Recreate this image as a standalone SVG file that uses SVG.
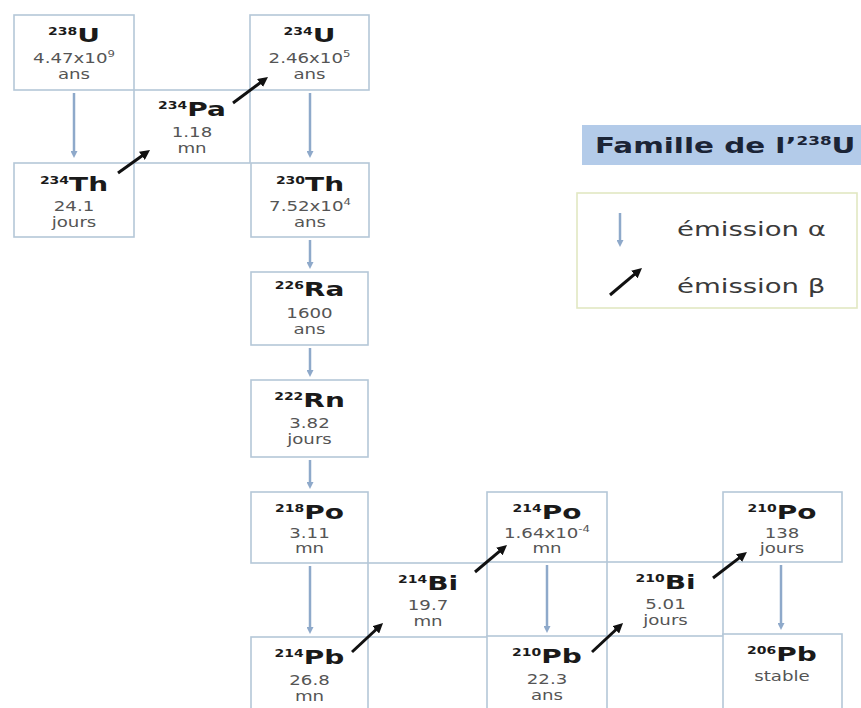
<svg xmlns="http://www.w3.org/2000/svg" width="861" height="708" viewBox="0 0 861 708">
<style>
.box{fill:#fff;stroke:#b5c7d8;stroke-width:1.6}
.sym{font-family:"DejaVu Sans",sans-serif;font-weight:bold;font-size:20px;fill:#1a1a1a;text-anchor:middle}
.sup{font-size:10px}
.val{font-family:"DejaVu Sans",sans-serif;font-size:14px;fill:#555;text-anchor:middle}
.vsup{font-size:9px}
.alpha{stroke:#8ea9ca;stroke-width:2.5;fill:none;marker-end:url(#ha)}
.beta{stroke:#111;stroke-width:3;fill:none;marker-end:url(#hb)}
.leg{font-family:"DejaVu Sans",sans-serif;font-size:19px;fill:#3a3a3a}
.title{font-family:"DejaVu Sans",sans-serif;font-weight:bold;font-size:21px;fill:#1b2436}
</style>
<defs>
<marker id="ha" markerUnits="userSpaceOnUse" viewBox="0 0 7 7" markerWidth="7" markerHeight="7" refX="1" refY="3.5" orient="auto"><path d="M0,0 L7,3.5 L0,7 z" fill="#8ea9ca"/></marker>
<marker id="hb" markerUnits="userSpaceOnUse" viewBox="0 0 10 10" markerWidth="10" markerHeight="10" refX="2" refY="5" orient="auto"><path d="M0,0 L10,5 L0,10 z" fill="#111"/></marker>
</defs>
<rect width="861" height="708" fill="#fff"/>

<g id="n238U"><rect class="box" x="14" y="15" width="120" height="75"/>
<text class="sym" transform="translate(74,42) scale(1.4,1)"><tspan class="sup" dy="-7">238</tspan><tspan dy="7">U</tspan></text>
<text class="val" transform="translate(74,63) scale(1.3,1)">4.47x10<tspan class="vsup" dy="-6">9</tspan></text>
<text class="val" transform="translate(74,79) scale(1.3,1)">ans</text></g>

<g id="n234Pa"><rect class="box" x="134" y="90" width="116" height="73"/>
<text class="sym" transform="translate(192,116) scale(1.4,1)"><tspan class="sup" dy="-7">234</tspan><tspan dy="7">Pa</tspan></text>
<text class="val" transform="translate(192,137) scale(1.3,1)">1.18</text>
<text class="val" transform="translate(192,153) scale(1.3,1)">mn</text></g>

<g id="n234U"><rect class="box" x="250" y="15" width="119" height="75"/>
<text class="sym" transform="translate(309.5,42) scale(1.4,1)"><tspan class="sup" dy="-7">234</tspan><tspan dy="7">U</tspan></text>
<text class="val" transform="translate(309.5,63) scale(1.3,1)">2.46x10<tspan class="vsup" dy="-6">5</tspan></text>
<text class="val" transform="translate(309.5,79) scale(1.3,1)">ans</text></g>

<g id="n234Th"><rect class="box" x="14" y="163" width="120" height="74"/>
<text class="sym" transform="translate(74,191) scale(1.4,1)"><tspan class="sup" dy="-7">234</tspan><tspan dy="7">Th</tspan></text>
<text class="val" transform="translate(74,211) scale(1.3,1)">24.1</text>
<text class="val" transform="translate(74,227) scale(1.3,1)">jours</text></g>

<g id="n230Th"><rect class="box" x="251" y="163" width="118" height="74"/>
<text class="sym" transform="translate(310,191) scale(1.4,1)"><tspan class="sup" dy="-7">230</tspan><tspan dy="7">Th</tspan></text>
<text class="val" transform="translate(310,211) scale(1.3,1)">7.52x10<tspan class="vsup" dy="-6">4</tspan></text>
<text class="val" transform="translate(310,227) scale(1.3,1)">ans</text></g>

<g id="n226Ra"><rect class="box" x="251" y="272" width="117" height="73"/>
<text class="sym" transform="translate(309.5,296) scale(1.4,1)"><tspan class="sup" dy="-7">226</tspan><tspan dy="7">Ra</tspan></text>
<text class="val" transform="translate(309.5,318) scale(1.3,1)">1600</text>
<text class="val" transform="translate(309.5,334) scale(1.3,1)">ans</text></g>

<g id="n222Rn"><rect class="box" x="251" y="380" width="117" height="77"/>
<text class="sym" transform="translate(309.5,407) scale(1.4,1)"><tspan class="sup" dy="-7">222</tspan><tspan dy="7">Rn</tspan></text>
<text class="val" transform="translate(309.5,428) scale(1.3,1)">3.82</text>
<text class="val" transform="translate(309.5,444) scale(1.3,1)">jours</text></g>

<g id="n218Po"><rect class="box" x="251" y="492" width="117" height="71"/>
<text class="sym" transform="translate(309.5,519) scale(1.4,1)"><tspan class="sup" dy="-7">218</tspan><tspan dy="7">Po</tspan></text>
<text class="val" transform="translate(309.5,538) scale(1.3,1)">3.11</text>
<text class="val" transform="translate(309.5,553) scale(1.3,1)">mn</text></g>

<g id="n214Bi"><rect class="box" x="368" y="563" width="119" height="74"/>
<text class="sym" transform="translate(428,590) scale(1.4,1)"><tspan class="sup" dy="-7">214</tspan><tspan dy="7">Bi</tspan></text>
<text class="val" transform="translate(428,610) scale(1.3,1)">19.7</text>
<text class="val" transform="translate(428,626) scale(1.3,1)">mn</text></g>

<g id="n214Pb"><rect class="box" x="251" y="637" width="117" height="90"/>
<text class="sym" transform="translate(309.5,664) scale(1.4,1)"><tspan class="sup" dy="-7">214</tspan><tspan dy="7">Pb</tspan></text>
<text class="val" transform="translate(309.5,685) scale(1.3,1)">26.8</text>
<text class="val" transform="translate(309.5,701) scale(1.3,1)">mn</text></g>

<g id="n214Po"><rect class="box" x="487" y="492" width="120" height="70"/>
<text class="sym" transform="translate(547,519) scale(1.4,1)"><tspan class="sup" dy="-7">214</tspan><tspan dy="7">Po</tspan></text>
<text class="val" transform="translate(547,538) scale(1.3,1)">1.64x10<tspan class="vsup" dy="-6">-4</tspan></text>
<text class="val" transform="translate(547,553) scale(1.3,1)">mn</text></g>

<g id="n210Bi"><rect class="box" x="607" y="562" width="116" height="74"/>
<text class="sym" transform="translate(665.5,589) scale(1.4,1)"><tspan class="sup" dy="-7">210</tspan><tspan dy="7">Bi</tspan></text>
<text class="val" transform="translate(665.5,609) scale(1.3,1)">5.01</text>
<text class="val" transform="translate(665.5,625) scale(1.3,1)">jours</text></g>

<g id="n210Pb"><rect class="box" x="487" y="636" width="120" height="90"/>
<text class="sym" transform="translate(547,663) scale(1.4,1)"><tspan class="sup" dy="-7">210</tspan><tspan dy="7">Pb</tspan></text>
<text class="val" transform="translate(547,684) scale(1.3,1)">22.3</text>
<text class="val" transform="translate(547,700) scale(1.3,1)">ans</text></g>

<g id="n210Po"><rect class="box" x="723" y="492" width="119" height="70"/>
<text class="sym" transform="translate(782,519) scale(1.4,1)"><tspan class="sup" dy="-7">210</tspan><tspan dy="7">Po</tspan></text>
<text class="val" transform="translate(782,538) scale(1.3,1)">138</text>
<text class="val" transform="translate(782,553) scale(1.3,1)">jours</text></g>

<g id="n206Pb"><rect class="box" x="723" y="634" width="119" height="90"/>
<text class="sym" transform="translate(782,661) scale(1.4,1)"><tspan class="sup" dy="-7">206</tspan><tspan dy="7">Pb</tspan></text>
<text class="val" transform="translate(782,681) scale(1.3,1)">stable</text></g>

<g id="connectors">
<line class="alpha" x1="74" y1="93" x2="74" y2="152"/>
<line class="alpha" x1="310" y1="93" x2="310" y2="152"/>
<line class="alpha" x1="310" y1="240" x2="310" y2="263"/>
<line class="alpha" x1="310" y1="348" x2="310" y2="371"/>
<line class="alpha" x1="310" y1="460" x2="310" y2="483"/>
<line class="alpha" x1="310" y1="566" x2="310" y2="628"/>
<line class="alpha" x1="547" y1="565" x2="547" y2="627"/>
<line class="alpha" x1="781" y1="565" x2="781" y2="624"/>
<line class="beta" x1="118" y1="173" x2="143.5" y2="154.7"/>
<line class="beta" x1="233" y1="103" x2="261.6" y2="81.8"/>
<line class="beta" x1="352" y1="652" x2="377.2" y2="628.5"/>
<line class="beta" x1="475" y1="572" x2="500.9" y2="550.2"/>
<line class="beta" x1="592" y1="652" x2="617.2" y2="628.5"/>
<line class="beta" x1="713" y1="578" x2="740.6" y2="556.9"/>
</g>

<g id="legend-title">
<rect x="582" y="125" width="279" height="40" fill="#b3cbe9"/>
<text class="title" transform="translate(595,153) scale(1.4,1)">Famille de l’<tspan font-size="12" dy="-8">238</tspan><tspan dy="8">U</tspan></text>
</g>

<g id="legend">
<rect x="577" y="193" width="280" height="115" fill="#fff" stroke="#e2e8c2" stroke-width="1.6"/>
<line class="alpha" x1="620" y1="213" x2="620" y2="241"/>
<line class="beta" x1="610" y1="295" x2="635.9" y2="273.2"/>
<text class="leg" transform="translate(677,236) scale(1.45,1)">émission α</text>
<text class="leg" transform="translate(677,293) scale(1.45,1)">émission β</text>
</g>
</svg>
